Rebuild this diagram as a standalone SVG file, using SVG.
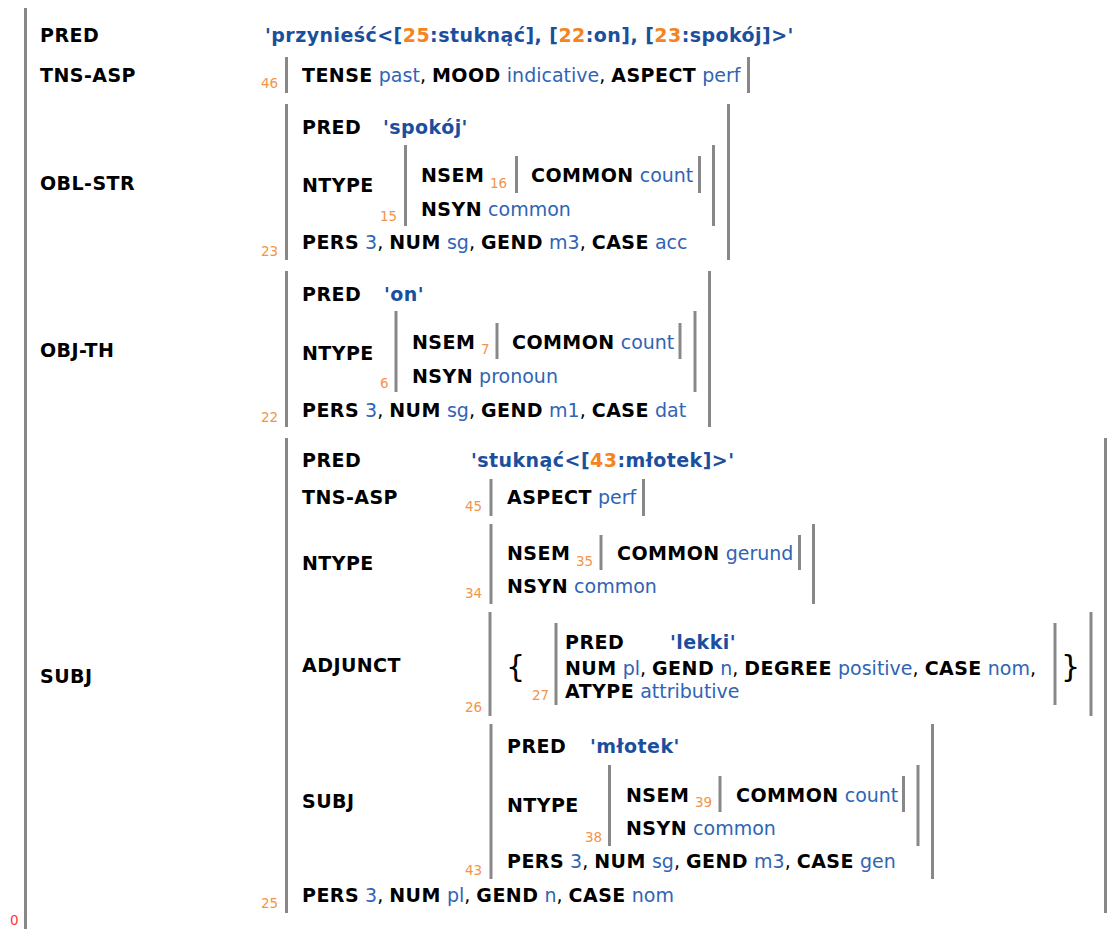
<svg xmlns="http://www.w3.org/2000/svg" width="1115" height="929" viewBox="0 0 1115 929">
<style>
text{font-family:"DejaVu Sans","Verdana",sans-serif;font-size:19px;fill:#000}
.k{font-weight:bold;fill:#000;letter-spacing:0.45px}
.v{fill:#2f64b4}
.p{font-weight:bold;fill:#1b4f9e;letter-spacing:0.45px}
.po{font-weight:bold;fill:#f5841f}
.n{font-size:13.5px;fill:#f3944a}
.z{font-size:13.5px;fill:#ff3333}
.br{font-size:30px;fill:#000}
.bar{stroke:#888;stroke-width:3;fill:none}
</style>
<rect width="1115" height="929" fill="#fff"/>
<g id="fs0">
<line class="bar" x1="25.5" y1="8" x2="25.5" y2="929"/>
<text class="z" x="10" y="925">0</text>
<text class="k" x="40" y="42">PRED</text>
<text x="265" y="42" class="p">'przynieść&lt;[<tspan class="po">25</tspan>:stuknąć], [<tspan class="po">22</tspan>:on], [<tspan class="po">23</tspan>:spokój]&gt;'</text>
<text class="k" x="40" y="82">TNS-ASP</text>
<text class="k" x="40" y="190">OBL-STR</text>
<text class="k" x="40" y="357">OBJ-TH</text>
<text class="k" x="40" y="683">SUBJ</text>
</g>
<g id="fs46">
<text class="n" x="261" y="88">46</text>
<line class="bar" x1="286.5" y1="57" x2="286.5" y2="93"/>
<text x="302" y="82"><tspan class="k">TENSE</tspan> <tspan class="v">past</tspan>, <tspan class="k">MOOD</tspan> <tspan class="v">indicative</tspan>, <tspan class="k">ASPECT</tspan> <tspan class="v">perf</tspan></text>
<line class="bar" x1="748.5" y1="57" x2="748.5" y2="93"/>
</g>
<g id="fs23">
<line class="bar" x1="286.5" y1="104" x2="286.5" y2="260"/>
<line class="bar" x1="728.5" y1="104" x2="728.5" y2="260"/>
<text class="k" x="302" y="134">PRED</text>
<text class="p" x="383" y="134">'spokój'</text>
<text class="k" x="302" y="192">NTYPE</text>
<text x="302" y="249"><tspan class="k">PERS</tspan> <tspan class="v">3</tspan>, <tspan class="k">NUM</tspan> <tspan class="v">sg</tspan>, <tspan class="k">GEND</tspan> <tspan class="v">m3</tspan>, <tspan class="k">CASE</tspan> <tspan class="v">acc</tspan></text>
<text class="n" x="261" y="256">23</text>
</g>
<g id="fs15">
<text class="n" x="380" y="221">15</text>
<line class="bar" x1="405.5" y1="145" x2="405.5" y2="226"/>
<line class="bar" x1="713.5" y1="145" x2="713.5" y2="226"/>
<text class="k" x="421" y="182">NSEM</text>
<text class="n" x="490" y="188">16</text>
<text x="421" y="216"><tspan class="k">NSYN</tspan> <tspan class="v">common</tspan></text>
</g>
<g id="fs16">
<line class="bar" x1="516.5" y1="156" x2="516.5" y2="193"/>
<text x="531" y="182"><tspan class="k">COMMON</tspan> <tspan class="v">count</tspan></text>
<line class="bar" x1="699.5" y1="156" x2="699.5" y2="193"/>
</g>
<g id="fs22">
<line class="bar" x1="286.5" y1="271" x2="286.5" y2="427"/>
<line class="bar" x1="709.5" y1="271" x2="709.5" y2="427"/>
<text class="k" x="302" y="301">PRED</text>
<text class="p" x="384" y="301">'on'</text>
<text class="k" x="302" y="360">NTYPE</text>
<text x="302" y="417"><tspan class="k">PERS</tspan> <tspan class="v">3</tspan>, <tspan class="k">NUM</tspan> <tspan class="v">sg</tspan>, <tspan class="k">GEND</tspan> <tspan class="v">m1</tspan>, <tspan class="k">CASE</tspan> <tspan class="v">dat</tspan></text>
<text class="n" x="261" y="422">22</text>
</g>
<g id="fs6">
<text class="n" x="380" y="388">6</text>
<line class="bar" x1="396" y1="311" x2="396" y2="392"/>
<line class="bar" x1="695" y1="311" x2="695" y2="392"/>
<text class="k" x="412" y="349">NSEM</text>
<text class="n" x="481" y="354">7</text>
<text x="412" y="383"><tspan class="k">NSYN</tspan> <tspan class="v">pronoun</tspan></text>
</g>
<g id="fs7">
<line class="bar" x1="497" y1="323" x2="497" y2="359"/>
<text x="512" y="349"><tspan class="k">COMMON</tspan> <tspan class="v">count</tspan></text>
<line class="bar" x1="680" y1="323" x2="680" y2="359"/>
</g>
<g id="fs25">
<line class="bar" x1="286.5" y1="438" x2="286.5" y2="913"/>
<line class="bar" x1="1105.5" y1="438" x2="1105.5" y2="913"/>
<text class="k" x="302" y="467">PRED</text>
<text class="p" x="471" y="467">'stuknąć&lt;[<tspan class="po">43</tspan>:młotek]&gt;'</text>
<text class="k" x="302" y="504">TNS-ASP</text>
<text class="k" x="302" y="570">NTYPE</text>
<text class="k" x="302" y="672">ADJUNCT</text>
<text class="k" x="302" y="808">SUBJ</text>
<text x="302" y="902"><tspan class="k">PERS</tspan> <tspan class="v">3</tspan>, <tspan class="k">NUM</tspan> <tspan class="v">pl</tspan>, <tspan class="k">GEND</tspan> <tspan class="v">n</tspan>, <tspan class="k">CASE</tspan> <tspan class="v">nom</tspan></text>
<text class="n" x="261" y="908">25</text>
</g>
<g id="fs45">
<text class="n" x="465" y="511">45</text>
<line class="bar" x1="491" y1="479" x2="491" y2="516"/>
<text x="507" y="504"><tspan class="k">ASPECT</tspan> <tspan class="v">perf</tspan></text>
<line class="bar" x1="643.5" y1="479" x2="643.5" y2="516"/>
</g>
<g id="fs34">
<text class="n" x="465" y="598">34</text>
<line class="bar" x1="491" y1="524" x2="491" y2="604"/>
<line class="bar" x1="813.5" y1="524" x2="813.5" y2="604"/>
<text class="k" x="507" y="560">NSEM</text>
<text class="n" x="576" y="566">35</text>
<text x="507" y="593"><tspan class="k">NSYN</tspan> <tspan class="v">common</tspan></text>
</g>
<g id="fs35">
<line class="bar" x1="601" y1="535" x2="601" y2="570"/>
<text x="617" y="560"><tspan class="k">COMMON</tspan> <tspan class="v">gerund</tspan></text>
<line class="bar" x1="799.5" y1="535" x2="799.5" y2="570"/>
</g>
<g id="adjunct26">
<text class="n" x="465" y="712">26</text>
<line class="bar" x1="490" y1="612" x2="490" y2="716"/>
<text class="br" x="506" y="677">{</text>
<text class="br" x="1061" y="677">}</text>
<line class="bar" x1="1091" y1="612" x2="1091" y2="716"/>
</g>
<g id="fs27">
<text class="n" x="532" y="700">27</text>
<line class="bar" x1="556" y1="623" x2="556" y2="705"/>
<line class="bar" x1="1055" y1="623" x2="1055" y2="705"/>
<text class="k" x="565" y="649">PRED</text>
<text class="p" x="670" y="649">'lekki'</text>
<text x="565" y="675"><tspan class="k">NUM</tspan> <tspan class="v">pl</tspan>, <tspan class="k">GEND</tspan> <tspan class="v">n</tspan>, <tspan class="k">DEGREE</tspan> <tspan class="v">positive</tspan>, <tspan class="k">CASE</tspan> <tspan class="v">nom</tspan>,</text>
<text x="565" y="698"><tspan class="k">ATYPE</tspan> <tspan class="v">attributive</tspan></text>
</g>
<g id="fs43">
<text class="n" x="465" y="875">43</text>
<line class="bar" x1="491" y1="724" x2="491" y2="879"/>
<line class="bar" x1="932.5" y1="724" x2="932.5" y2="879"/>
<text class="k" x="507" y="753">PRED</text>
<text class="p" x="590" y="753">'młotek'</text>
<text class="k" x="507" y="812">NTYPE</text>
<text x="507" y="868"><tspan class="k">PERS</tspan> <tspan class="v">3</tspan>, <tspan class="k">NUM</tspan> <tspan class="v">sg</tspan>, <tspan class="k">GEND</tspan> <tspan class="v">m3</tspan>, <tspan class="k">CASE</tspan> <tspan class="v">gen</tspan></text>
</g>
<g id="fs38">
<text class="n" x="585" y="842">38</text>
<line class="bar" x1="609.5" y1="765" x2="609.5" y2="846"/>
<line class="bar" x1="918" y1="765" x2="918" y2="846"/>
<text class="k" x="626" y="802">NSEM</text>
<text class="n" x="695" y="807">39</text>
<text x="626" y="835"><tspan class="k">NSYN</tspan> <tspan class="v">common</tspan></text>
</g>
<g id="fs39">
<line class="bar" x1="720" y1="776" x2="720" y2="812"/>
<text x="736" y="802"><tspan class="k">COMMON</tspan> <tspan class="v">count</tspan></text>
<line class="bar" x1="903.5" y1="776" x2="903.5" y2="812"/>
</g>
<g id="connectors"/>
</svg>
